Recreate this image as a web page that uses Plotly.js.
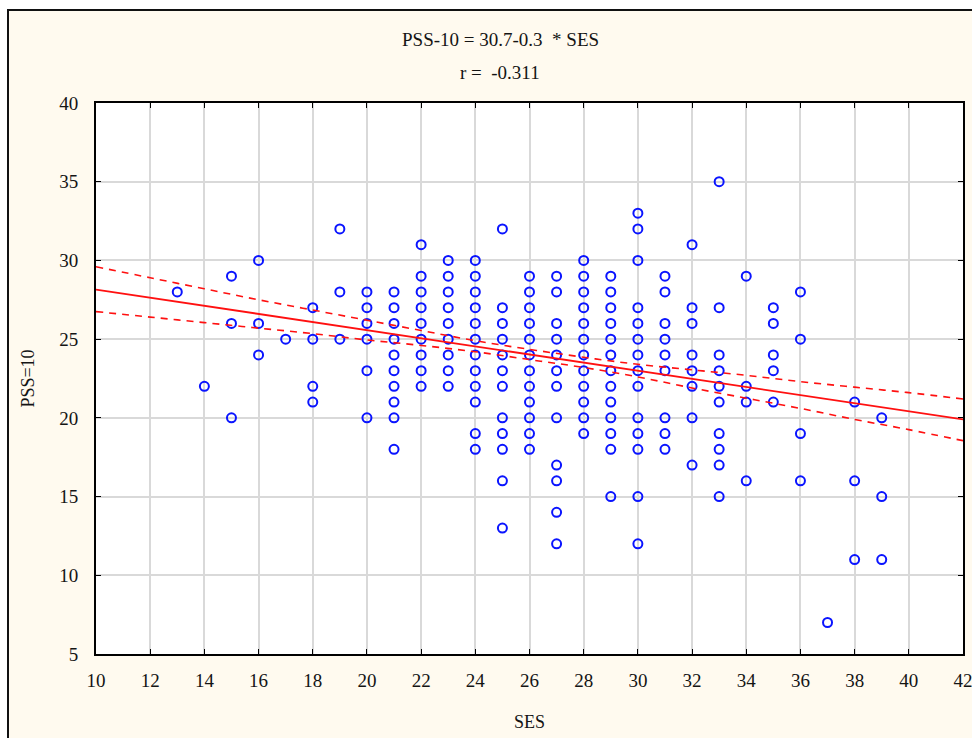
<!DOCTYPE html>
<html>
<head>
<meta charset="utf-8">
<script src="https://cdn.plot.ly/plotly-3.0.1.min.js"></script>
<style>
  html, body { margin: 0; padding: 0; background: #ffffff; overflow: hidden; width: 972px; height: 738px; }
  #frame { position: absolute; left: 7px; top: 9px; width: 980px; height: 760px;
           border: 2px solid #111; background: #fffaef; }
  #chart { position: absolute; left: 0; top: 0; width: 992px; height: 738px; }
</style>
</head>
<body>
<div id="frame"></div>
<div id="chart"></div>
<script>
// Scatter data: SES value and the PSS-10 scores observed at that SES value
const sesValues = [13, 14, 15, 16, 17, 18, 19, 20, 21, 22, 23, 24, 25, 26, 27, 28, 29, 30, 31, 32, 33, 34, 35, 36, 37, 38, 39];
const pssAtSes = [
  [28],
  [22],
  [29, 26, 20],
  [30, 26, 24],
  [25],
  [27, 25, 22, 21],
  [32, 28, 25],
  [28, 27, 26, 25, 23, 20],
  [28, 27, 26, 25, 24, 23, 22, 21, 20, 18],
  [31, 29, 28, 27, 26, 25, 24, 23, 22],
  [30, 29, 28, 27, 26, 25, 24, 23, 22],
  [30, 29, 28, 27, 26, 25, 24, 23, 22, 21, 19, 18],
  [32, 27, 26, 25, 24, 23, 22, 20, 19, 18, 16, 13],
  [29, 28, 27, 26, 25, 24, 23, 22, 21, 20, 19, 18],
  [29, 28, 26, 25, 24, 23, 22, 20, 17, 16, 14, 12],
  [30, 29, 28, 27, 26, 25, 24, 23, 22, 21, 20, 19],
  [29, 28, 27, 26, 25, 24, 23, 22, 21, 20, 19, 18, 15],
  [33, 32, 30, 27, 26, 25, 24, 23, 22, 20, 19, 18, 15, 12],
  [29, 28, 26, 25, 24, 23, 20, 19, 18],
  [31, 27, 26, 24, 23, 22, 20, 17],
  [35, 27, 24, 23, 22, 21, 19, 18, 17, 15],
  [29, 22, 21, 16],
  [27, 26, 24, 23, 21],
  [28, 25, 19, 16],
  [7],
  [21, 16, 11],
  [20, 15, 11]
];

// Regression line and 95% confidence band
const fitX = [10, 42];
const fitY = [28.15, 19.9];
const bandX = [10, 12, 14, 16, 18, 20, 22, 24, 26, 28, 30, 32, 34, 36, 38, 40, 42];
const bandUpper = [29.6, 28.9, 28.2, 27.5, 26.85, 26.2, 25.55, 24.9, 24.35, 23.85, 23.4, 23.05, 22.7, 22.3, 21.95, 21.6, 21.2];
const bandLower = [26.75, 26.4, 26.05, 25.7, 25.35, 24.95, 24.6, 24.2, 23.7, 23.2, 22.6, 21.9, 21.25, 20.6, 19.9, 19.25, 18.55];

// Tick values
const xTicks = [10, 12, 14, 16, 18, 20, 22, 24, 26, 28, 30, 32, 34, 36, 38, 40, 42];
const yTicks = [5, 10, 15, 20, 25, 30, 35, 40];

const titleText = 'PSS-10 = 30.7-0.3  * SES';
const rText = 'r =  -0.311';

const px = [], py = [];
sesValues.forEach((s, i) => pssAtSes[i].forEach(v => { px.push(s); py.push(v); }));

const FONT = 'Liberation Serif, Times New Roman, serif';
const TXT = '#141414';

const traces = [
  {
    x: px, y: py, type: 'scatter', mode: 'markers',
    marker: { symbol: 'circle-open', size: 9, color: '#0a14ff', line: { width: 2, color: '#0a14ff' } },
    hoverinfo: 'x+y', showlegend: false
  },
  {
    x: fitX, y: fitY, type: 'scatter', mode: 'lines',
    line: { color: '#ff1010', width: 1.8 }, showlegend: false
  },
  {
    x: bandX, y: bandUpper, type: 'scatter', mode: 'lines', line: { shape: 'spline',
    color: '#ff1010', width: 1.6, dash: '7px,6px' }, showlegend: false
  },
  {
    x: bandX, y: bandLower, type: 'scatter', mode: 'lines', line: { shape: 'spline',
    color: '#ff1010', width: 1.6, dash: '7px,6px' }, showlegend: false
  }
];

const layout = {
  width: 992, height: 738,
  margin: { l: 96, r: 29, t: 103, b: 84 },
  paper_bgcolor: 'rgba(0,0,0,0)',
  plot_bgcolor: '#ffffff',
  showlegend: false,
  font: { family: FONT, size: 18, color: TXT },
  xaxis: {
    range: [10, 42], tickvals: xTicks, ticktext: xTicks.map(String),
    ticks: 'inside', ticklen: 5, tickcolor: '#000', tickwidth: 1.2,
    showline: true, linecolor: '#000', linewidth: 1.8, mirror: 'ticks',
    showgrid: true, gridcolor: '#d9d9d9', gridwidth: 1.5, zeroline: false,
    tickfont: { family: FONT, size: 19, color: TXT },
    ticklabelstandoff: 8,
    title: { text: 'SES', font: { family: FONT, size: 18, color: TXT }, standoff: 26 }
  },
  yaxis: {
    range: [5, 40], tickvals: yTicks, ticktext: yTicks.map(String),
    ticks: 'inside', ticklen: 5, tickcolor: '#000', tickwidth: 1.2,
    showline: true, linecolor: '#000', linewidth: 1.8, mirror: 'ticks',
    showgrid: true, gridcolor: '#d9d9d9', gridwidth: 1.5, zeroline: false,
    tickfont: { family: FONT, size: 19, color: TXT },
    ticklabelstandoff: 12,
    title: { text: 'PSS=10', font: { family: FONT, size: 18, color: TXT }, standoff: 20 }
  },
  annotations: [
    { text: titleText, xref: 'paper', yref: 'paper', x: 0.466, y: 1, yshift: 64, xanchor: 'center', yanchor: 'middle',
      showarrow: false, font: { family: FONT, size: 19, color: TXT } },
    { text: rText, xref: 'paper', yref: 'paper', x: 0.466, y: 1, yshift: 31, xanchor: 'center', yanchor: 'middle',
      showarrow: false, font: { family: FONT, size: 19, color: TXT } }
  ]
};

Plotly.newPlot('chart', traces, layout, { displayModeBar: false, responsive: false });
</script>
</body>
</html>
